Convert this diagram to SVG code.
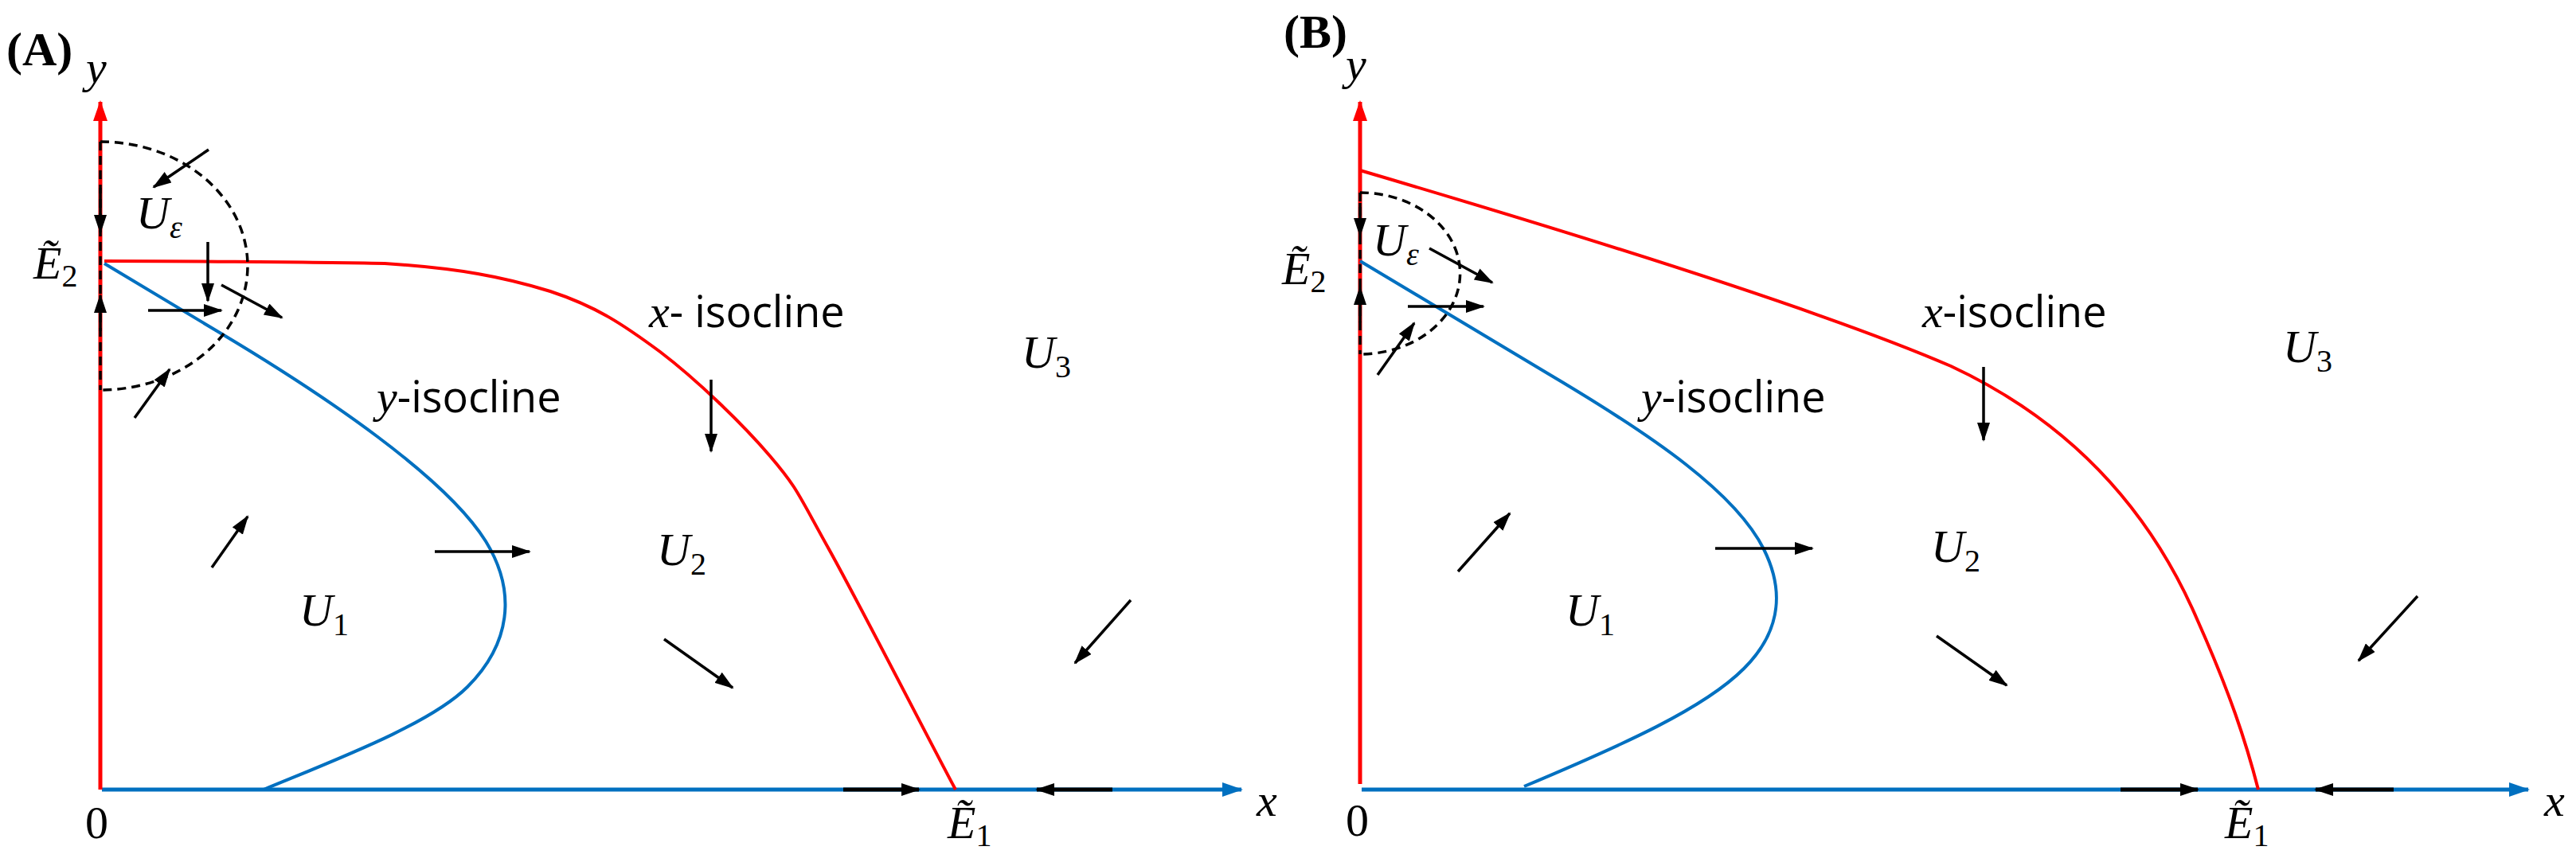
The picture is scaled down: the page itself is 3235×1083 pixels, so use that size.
<svg xmlns="http://www.w3.org/2000/svg" width="3235" height="1083" viewBox="0 0 3235 1083">
<defs>
<marker id="ah" markerWidth="24" markerHeight="16" refX="22" refY="8" orient="auto" markerUnits="userSpaceOnUse"><path d="M0,0 L24,8 L0,16 Z" fill="#000"/></marker>
<marker id="ahr" markerWidth="26" markerHeight="18" refX="24" refY="9" orient="auto" markerUnits="userSpaceOnUse"><path d="M0,0 L26,9 L0,18 Z" fill="#ff0000"/></marker>
<marker id="ahb" markerWidth="26" markerHeight="18" refX="24" refY="9" orient="auto" markerUnits="userSpaceOnUse"><path d="M0,0 L26,9 L0,18 Z" fill="#0070c0"/></marker>
</defs>
<style>
.red{fill:none;stroke:#ff0000;stroke-width:4}
.blue{fill:none;stroke:#0070c0;stroke-width:4}
.axr{fill:none;stroke:#ff0000;stroke-width:5;marker-end:url(#ahr)}
.axb{fill:none;stroke:#0070c0;stroke-width:5;marker-end:url(#ahb)}
.dash{fill:none;stroke:#000;stroke-width:3.5;stroke-dasharray:11,7}
.arr{fill:none;stroke:#000;stroke-width:3.5;marker-end:url(#ah)}
.arrk{fill:none;stroke:#000;stroke-width:5;marker-end:url(#ah)}
.m{font-family:'Liberation Serif',serif;font-style:italic;font-size:58px;fill:#000}
.sub{font-family:'Liberation Serif',serif;font-style:normal;font-size:40px}
.subi{font-family:'Liberation Serif',serif;font-style:italic;font-size:40px}
.t{font-family:'Open Sans','DejaVu Sans',sans-serif;font-size:54px;fill:#000}
.lab{font-family:'Liberation Serif',serif;font-weight:bold;font-size:60px;fill:#000}
.n{font-family:'Liberation Serif',serif;font-size:58px;fill:#000}
</style>
<rect width="3235" height="1083" fill="#fff"/>

<g id="panelA">
<g id="A-axes">
<line class="axb" x1="128" y1="992" x2="1559" y2="992"/>
<line class="axr" x1="126" y1="992" x2="126" y2="128"/>
</g>
<g id="A-curves">
<path id="A-xiso" class="red" d="M131,328 C190,328 390,329 483,331 C576,337 633,348 691,366 C749,385 783,408 829,442 C875,477 932,532 967,573 C1002,614 1002,620 1041,690 C1080,760 1173,942 1200,992"/>
<path id="A-yiso" class="blue" d="M131,331 L276,418 C410,498 560,600 610,680 C650,745 640,810 587,863 C540,910 420,955 331,992"/>
</g>
<g id="A-Ueps">
<path class="dash" d="M126,178 A185,156 0 0 1 126,490"/>
<line class="dash" x1="126" y1="178" x2="126" y2="490"/>
</g>
<g id="A-connectors">
<line class="arr" x1="126" y1="236" x2="126" y2="292"/>
<line class="arr" x1="126" y1="416" x2="126" y2="371"/>
<line class="arr" x1="262" y1="188" x2="193" y2="235"/>
<line class="arr" x1="261" y1="304" x2="261" y2="378"/>
<line class="arr" x1="186" y1="390" x2="278" y2="390"/>
<line class="arr" x1="278" y1="358" x2="354" y2="399"/>
<line class="arr" x1="169" y1="525" x2="213" y2="464"/>
<line class="arr" x1="893" y1="477" x2="893" y2="567"/>
<line class="arr" x1="266" y1="713" x2="311" y2="649"/>
<line class="arr" x1="546" y1="693" x2="665" y2="693"/>
<line class="arr" x1="834" y1="803" x2="920" y2="864"/>
<line class="arr" x1="1420" y1="754" x2="1350" y2="833"/>
<line class="arrk" x1="1059" y1="992" x2="1154" y2="992"/>
<line class="arrk" x1="1397" y1="992" x2="1302" y2="992"/>
</g>
<g id="A-labels">
<text class="lab" x="8" y="82">(A)</text>
<text class="m" x="108" y="104">y</text>
<text class="m" x="171" y="287">U<tspan class="subi" dy="12">ε</tspan></text>
<text class="m" x="42" y="350">Ẽ<tspan class="sub" dy="10">2</tspan></text>
<text class="t" x="815" y="411"><tspan class="m">x</tspan>- isocline</text>
<text class="t" x="473" y="518"><tspan class="m">y</tspan>-isocline</text>
<text class="m" x="1283" y="462">U<tspan class="sub" dy="12">3</tspan></text>
<text class="m" x="825" y="710">U<tspan class="sub" dy="12">2</tspan></text>
<text class="m" x="376" y="786">U<tspan class="sub" dy="12">1</tspan></text>
<text class="n" x="107" y="1053">0</text>
<text class="m" x="1190" y="1053">Ẽ<tspan class="sub" dy="10">1</tspan></text>
<text class="m" x="1578" y="1025">x</text>
</g>
</g>

<g id="panelB">
<g id="B-axes">
<line class="axb" x1="1710" y1="992" x2="3175" y2="992"/>
<line class="axr" x1="1708" y1="985" x2="1708" y2="128"/>
</g>
<g id="B-curves">
<path id="B-xiso" class="red" d="M1708,214 C2000,300 2300,395 2450,460 C2600,530 2700,640 2760,780 C2800,870 2820,930 2836,992"/>
<path id="B-yiso" class="blue" d="M1708,328 L1945,470 C2080,550 2180,620 2215,690 C2245,750 2230,800 2190,840 C2140,890 2040,935 1914,988"/>
</g>
<g id="B-Ueps">
<path class="dash" d="M1708,242 A125,101 0 0 1 1708,445"/>
<line class="dash" x1="1708" y1="242" x2="1708" y2="445"/>
</g>
<g id="B-connectors">
<line class="arr" x1="1708" y1="255" x2="1708" y2="296"/>
<line class="arr" x1="1708" y1="405" x2="1708" y2="361"/>
<line class="arr" x1="1795" y1="312" x2="1874" y2="355"/>
<line class="arr" x1="1768" y1="385" x2="1863" y2="385"/>
<line class="arr" x1="1730" y1="471" x2="1776" y2="406"/>
<line class="arr" x1="2491" y1="461" x2="2491" y2="553"/>
<line class="arr" x1="1831" y1="718" x2="1896" y2="645"/>
<line class="arr" x1="2154" y1="689" x2="2276" y2="689"/>
<line class="arr" x1="2432" y1="799" x2="2520" y2="861"/>
<line class="arr" x1="3036" y1="749" x2="2962" y2="830"/>
<line class="arrk" x1="2663" y1="992" x2="2760" y2="992"/>
<line class="arrk" x1="3006" y1="992" x2="2908" y2="992"/>
</g>
<g id="B-labels">
<text class="lab" x="1612" y="60">(B)</text>
<text class="m" x="1690" y="100">y</text>
<text class="m" x="1724" y="321">U<tspan class="subi" dy="12">ε</tspan></text>
<text class="m" x="1610" y="357">Ẽ<tspan class="sub" dy="10">2</tspan></text>
<text class="t" x="2414" y="411"><tspan class="m">x</tspan>-isocline</text>
<text class="t" x="2061" y="518"><tspan class="m">y</tspan>-isocline</text>
<text class="m" x="2867" y="455">U<tspan class="sub" dy="12">3</tspan></text>
<text class="m" x="2425" y="706">U<tspan class="sub" dy="12">2</tspan></text>
<text class="m" x="1966" y="786">U<tspan class="sub" dy="12">1</tspan></text>
<text class="n" x="1690" y="1050">0</text>
<text class="m" x="2794" y="1053">Ẽ<tspan class="sub" dy="10">1</tspan></text>
<text class="m" x="3195" y="1025">x</text>
</g>
</g>
</svg>
